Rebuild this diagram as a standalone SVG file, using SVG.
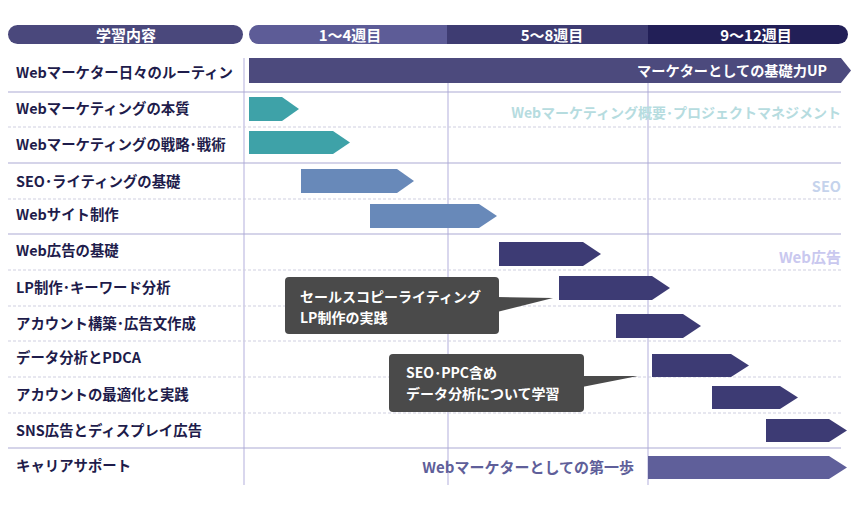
<svg xmlns="http://www.w3.org/2000/svg" width="862" height="518" viewBox="0 0 862 518">
<defs>
<style>
text{font-family:"Noto Sans CJK JP","Noto Sans",sans-serif;font-weight:bold;}
.lbl{font-size:14.4px;fill:#1e1c4b;}
.hd{font-size:15px;fill:#ffffff;text-anchor:middle;}
.solid{stroke:#aba9d4;stroke-width:1.2;fill:none;}
.dash{stroke:#cfcfe0;stroke-width:1;stroke-dasharray:3 2;fill:none;}
.vl{stroke:#c0bde2;stroke-width:1.2;fill:none;}
.teal{fill:#3ea2a8;}
.blue{fill:#6889b9;}
.navy{fill:#3d3b74;}
.ghost{text-anchor:end;}
.call{fill:#4a4a4a;}
.ct{font-size:14px;fill:#ffffff;font-weight:bold;}
</style>
<clipPath id="hclip"><rect x="249" y="25" width="599" height="19" rx="9.5"/></clipPath>
</defs>
<rect width="862" height="518" fill="#ffffff"/>

<g id="grid">
<line class="vl" x1="244" y1="58" x2="244" y2="485"/>
<line class="vl" x1="448" y1="58" x2="448" y2="485"/>
<line class="vl" x1="648" y1="58" x2="648" y2="485"/>
<line class="solid" x1="8" y1="92" x2="841" y2="92"/>
<line class="dash" x1="8" y1="127" x2="841" y2="127"/>
<line class="solid" x1="8" y1="163" x2="841" y2="163"/>
<line class="dash" x1="8" y1="199" x2="841" y2="199"/>
<line class="solid" x1="8" y1="234" x2="841" y2="234"/>
<line class="dash" x1="8" y1="270" x2="841" y2="270"/>
<line class="dash" x1="8" y1="306" x2="841" y2="306"/>
<line class="dash" x1="8" y1="341" x2="841" y2="341"/>
<line class="dash" x1="8" y1="377" x2="841" y2="377"/>
<line class="dash" x1="8" y1="413" x2="841" y2="413"/>
<line class="solid" x1="8" y1="448" x2="841" y2="448"/>
</g>

<g id="header">
<rect x="8" y="25" width="235" height="19" rx="9.5" fill="#4a487c"/>
<text class="hd" x="126" y="40.5">学習内容</text>
<g clip-path="url(#hclip)">
<rect x="249" y="25" width="199" height="19" fill="#5d5c97"/>
<rect x="447" y="25" width="202" height="19" fill="#3e3c72"/>
<rect x="648" y="25" width="200" height="19" fill="#221f57"/>
</g>
<text class="hd" x="350" y="40.5">1〜4週目</text>
<text class="hd" x="552" y="40.5">5〜8週目</text>
<text class="hd" x="756" y="40.5">9〜12週目</text>
</g>

<g id="ghost-labels">
<text class="ghost" x="841" y="118" font-size="14" fill="#b6dcdf">Webマーケティング概要･プロジェクトマネジメント</text>
<text class="ghost" x="841" y="192" font-size="14.5" fill="#c5d3ec">SEO</text>
<text class="ghost" x="841" y="263" font-size="15" fill="#c9c8ef">Web広告</text>
</g>

<g id="row1">
<text class="lbl" x="16" y="78">Webマーケター日々のルーティン</text>
<polygon points="249,58 841,58 851,70.5 841,83 249,83" fill="#4c4a7d"/>
<text x="827" y="76" font-size="14.2" fill="#ffffff" text-anchor="end">マーケターとしての基礎力UP</text>
</g>
<g id="row2">
<text class="lbl" x="16" y="114">Webマーケティングの本質</text>
<polygon class="teal" points="249,97 282,97 299,109 282,121 249,121"/>
</g>
<g id="row3">
<text class="lbl" x="16" y="150">Webマーケティングの戦略･戦術</text>
<polygon class="teal" points="249,131 333,131 350,142.5 333,154 249,154"/>
</g>
<g id="row4">
<text class="lbl" x="16" y="187">SEO･ライティングの基礎</text>
<polygon class="blue" points="301,169 397,169 414,181 397,193 301,193"/>
</g>
<g id="row5">
<text class="lbl" x="16" y="220">Webサイト制作</text>
<polygon class="blue" points="370,204 479,204 497,216 479,228 370,228"/>
</g>
<g id="row6">
<text class="lbl" x="16" y="256">Web広告の基礎</text>
<polygon class="navy" points="499,242 583,242 601,254 583,266 499,266"/>
</g>
<g id="row7">
<text class="lbl" x="16" y="293">LP制作･キーワード分析</text>
<polygon class="navy" points="559,276 652,276 670,288 652,300 559,300"/>
</g>
<g id="row8">
<text class="lbl" x="16" y="329">アカウント構築･広告文作成</text>
<polygon class="navy" points="616,314 683,314 701,326 683,338 616,338"/>
</g>
<g id="row9">
<text class="lbl" x="16" y="363">データ分析とPDCA</text>
<polygon class="navy" points="652,354 731,354 749,365.5 731,377 652,377"/>
</g>
<g id="row10">
<text class="lbl" x="16" y="400">アカウントの最適化と実践</text>
<polygon class="navy" points="712,386 780,386 798,397.5 780,409 712,409"/>
</g>
<g id="row11">
<text class="lbl" x="16" y="436">SNS広告とディスプレイ広告</text>
<polygon class="navy" points="766,419 829,419 847,430.5 829,442 766,442"/>
</g>
<g id="row12">
<text class="lbl" x="16" y="471">キャリアサポート</text>
<polygon points="648,456 829,456 847,467.5 829,479 648,479" fill="#5f5f9a"/>
<text x="634" y="472.5" font-size="15" fill="#5f5f9a" text-anchor="end">Webマーケターとしての第一歩</text>
</g>

<g id="callout1">
<rect class="call" x="285" y="277" width="214" height="57" rx="4"/>
<polygon class="call" points="497,297 553,298 497,312"/>
<text class="ct" x="300" y="302">セールスコピーライティング</text>
<text class="ct" x="300" y="323">LP制作の実践</text>
</g>
<g id="callout2">
<rect class="call" x="389" y="354" width="195" height="58" rx="4"/>
<polygon class="call" points="582,376 638,376 582,387"/>
<text class="ct" x="406" y="378" font-size="14.4">SEO･PPC含め</text>
<text class="ct" x="406" y="399" font-size="14.4">データ分析について学習</text>
</g>
</svg>
